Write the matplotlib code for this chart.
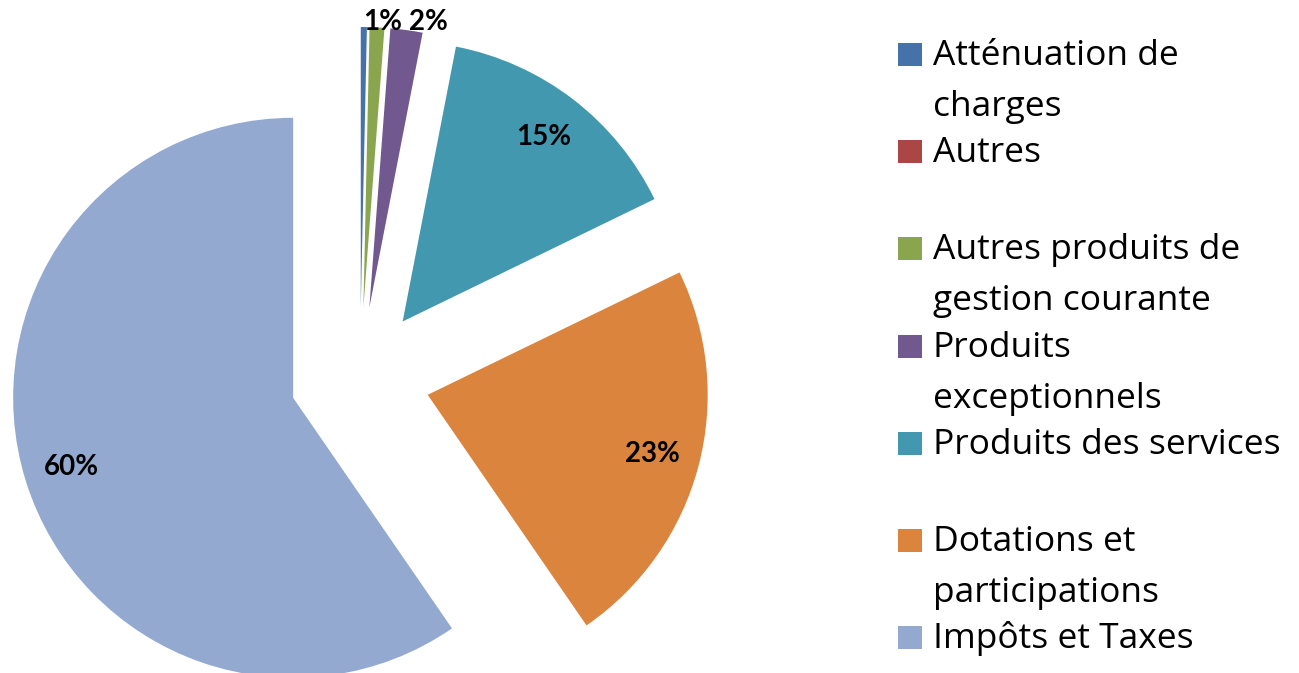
import matplotlib
matplotlib.use("Agg")
import matplotlib.pyplot as plt
from matplotlib.patches import Rectangle

plt.rcParams["font.family"] = ["Lato", "DejaVu Sans"]

# data (percent of total)
categories = [
    "Atténuation de\ncharges",
    "Autres",
    "Autres produits de\ngestion courante",
    "Produits\nexceptionnels",
    "Produits des services",
    "Dotations et\nparticipations",
    "Impôts et Taxes",
]
shares = [0.35, 0.0, 0.85, 1.85, 14.75, 22.6, 59.6]
colors = ["#4572A9", "#AA4643", "#89A54E", "#71588F", "#4198AF", "#DB843D", "#93A9CF"]

W, H = 1299, 673
fig = plt.figure(figsize=(W / 100, H / 100), dpi=100)

# pie axes: one data unit = R pixels, pie centre at (cx, cy) from top-left
R = 280
cx, cy = 360, 377
half = 1.3
ax = fig.add_axes([(cx - half * R) / W, (H - cy - half * R) / H,
                   2 * half * R / W, 2 * half * R / H])

wedges, texts, autotexts = ax.pie(
    shares,
    colors=colors,
    startangle=90,
    counterclock=False,
    explode=[0.25] * len(shares),
    autopct=lambda p: f"{p:.0f}%" if p >= 0.5 else "",
    pctdistance=0.83,
    wedgeprops=dict(linewidth=0),
    textprops=dict(fontsize=20, fontweight="bold", color="black"),
)
ax.set_xlim(-half, half)
ax.set_ylim(-half, half)

# small slices: labels pushed outside, side by side (as in Excel best fit)
autotexts[2].set_position((0.082, 1.268))
autotexts[3].set_position((0.245, 1.268))

# legend drawn by hand: marker aligned with first line of each entry
step = 97.2
line_gap = 51
for i, (lab, col) in enumerate(zip(categories, colors)):
    top = 43 + i * step
    fig.patches.append(Rectangle((898 / W, (H - top - 23) / H), 24 / W, 23 / H,
                                 transform=fig.transFigure, facecolor=col,
                                 edgecolor="none"))
    for k, line in enumerate(lab.split("\n")):
        base = top + 22 + k * line_gap
        fig.text(933 / W, (H - base) / H, line, fontsize=25.5,
                 family=["Open Sans", "DejaVu Sans"], color="black",
                 ha="left", va="baseline")

fig.savefig("out.png", dpi=100)
